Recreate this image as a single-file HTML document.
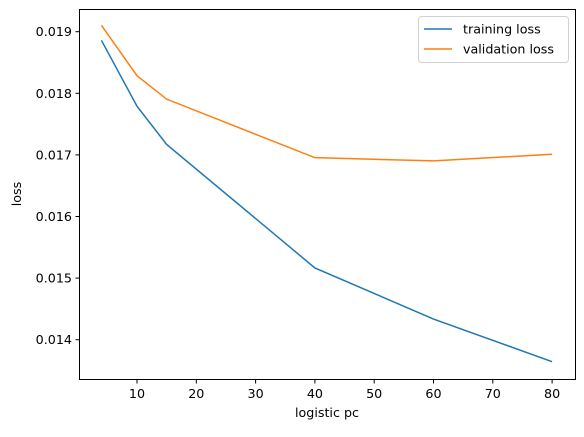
<!DOCTYPE html>
<html><head><meta charset="utf-8"><style>
body{margin:0;background:#fff;width:584px;height:432px;overflow:hidden}
text{font-family:"DejaVu Sans","Liberation Sans",sans-serif;font-size:12.7px;fill:#000}
</style></head><body>
<svg id="chart" width="584" height="432" xmlns="http://www.w3.org/2000/svg">
<rect x="0" y="0" width="584" height="432" fill="#fff"/>
<g id="grid"></g>
<g id="lines"></g>
<rect x="79.5" y="9.5" width="496" height="370" fill="none" stroke="#000" stroke-width="1"/>
<text x="327" y="417" text-anchor="middle">logistic pc</text>
<text transform="translate(21,194) rotate(-90)" text-anchor="middle">loss</text>
<g>
<rect x="418.5" y="16.5" width="150" height="46" rx="3" fill="#fff" stroke="#ccc" stroke-opacity="0.9"/>
<line x1="424" y1="29" x2="452" y2="29" stroke="#1f77b4" stroke-width="1.5"/>
<text x="463" y="33.5">training loss</text>
<line x1="424" y1="49" x2="452" y2="49" stroke="#ff7f0e" stroke-width="1.5"/>
<text x="463" y="53.5">validation loss</text>
</g>
</svg>
<script>
const xValues=[4,10,15,40,60,80];
const trainingLoss=[0.01886,0.01779,0.01717,0.015165,0.014335,0.013643];
const validationLoss=[0.019104,0.018285,0.017905,0.016955,0.016903,0.01701];
const xTicks=[10,20,30,40,50,60,70,80];
const yTicks=[0.014,0.015,0.016,0.017,0.018,0.019];
const NS="http://www.w3.org/2000/svg";
function sx(v){return 77.7+v*5.93;}
function sy(v){return 31.7+(0.019-v)*61600;}
const g=document.getElementById('grid');
xTicks.forEach(t=>{
 const l=document.createElementNS(NS,'line');
 l.setAttribute('x1',sx(t));l.setAttribute('x2',sx(t));l.setAttribute('y1',379.5);l.setAttribute('y2',383.5);l.setAttribute('stroke','#000');
 
 
 g.appendChild(l);
 const tx=document.createElementNS(NS,'text');
 tx.setAttribute('x',sx(t));tx.setAttribute('y',398);tx.setAttribute('text-anchor','middle');tx.textContent=t;
 
 
 g.appendChild(tx);
});
yTicks.forEach(t=>{
 const l=document.createElementNS(NS,'line');
 l.setAttribute('x1',75.5);l.setAttribute('x2',79.5);l.setAttribute('y1',sy(t));l.setAttribute('y2',sy(t));l.setAttribute('stroke','#000');
 
 
 g.appendChild(l);
 const tx=document.createElementNS(NS,'text');
 tx.setAttribute('x',72);tx.setAttribute('y',sy(t)+4.5);tx.setAttribute('text-anchor','end');tx.textContent=t.toFixed(3);
 
 
 g.appendChild(tx);
});
const lg=document.getElementById('lines');
[[trainingLoss,'#1f77b4','training-loss-line'],[validationLoss,'#ff7f0e','validation-loss-line']].forEach(([s,c,n])=>{
 const p=document.createElementNS(NS,'polyline');
 p.setAttribute('points',s.map((v,i)=>sx(xValues[i])+','+sy(v)).join(' '));
 p.setAttribute('fill','none');p.setAttribute('stroke',c);p.setAttribute('stroke-width','1.5');
 
 
 lg.appendChild(p);
});
</script>
</body></html>
